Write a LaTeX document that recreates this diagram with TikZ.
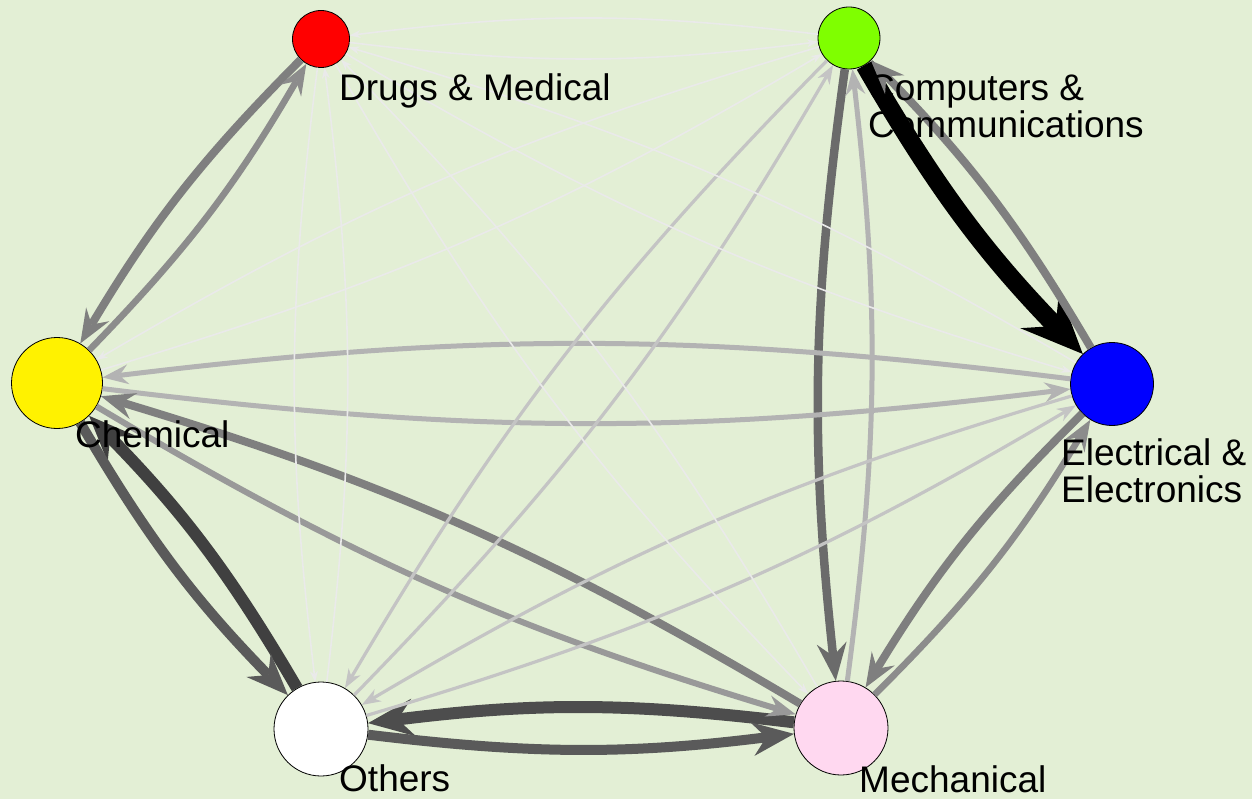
\documentclass[tikz,border=0pt]{standalone}
\usepackage{fontspec}
\setmainfont{Liberation Sans}
\usetikzlibrary{arrows.meta}

\definecolor{bgcol}{HTML}{E3EFD5}
\definecolor{pinkcol}{HTML}{FFD8F0}
\definecolor{greencol}{HTML}{7FFF00}

\begin{document}
\begin{tikzpicture}[x=1pt, y=-1pt]

    \tikzstyle{roundnode} = [draw, circle, line width=0.8, inner sep=0];
    \tikzstyle{namenode} = [anchor=base west, inner sep=0, align=left, font=\fontsize{37}{37}\selectfont];
    \tikzstyle{link} = [bend right=7];
    \tikzstyle{blackarrow} = [link, line width=18.5, color=black, -{Stealth[length=62, width=54, inset=23, line width=0pt]}];
    \tikzstyle{darkestarrow} = [link, line width=12, color={rgb,255:red,64;green,64;blue,64}, -{Stealth[length=46, width=38, inset=16, line width=0pt]}];
    \tikzstyle{darkerarrow} = [link, line width=12, color={rgb,255:red,77;green,77;blue,77}, -{Stealth[length=46, width=38, inset=16, line width=0pt]}];
    \tikzstyle{darkarrow} = [link, line width=10, color={rgb,255:red,90;green,90;blue,90}, -{Stealth[length=42, width=34, inset=14, line width=0pt]}];
    \tikzstyle{dimarrow} = [link, line width=8.5, color={rgb,255:red,107;green,107;blue,107}, -{Stealth[length=38, width=30, inset=13, line width=0pt]}];
    \tikzstyle{grayarrow} = [link, line width=8, color={rgb,255:red,127;green,127;blue,127}, -{Stealth[length=34, width=27, inset=12, line width=0pt]}];
    \tikzstyle{midarrow} = [link, line width=6.5, color={rgb,255:red,140;green,140;blue,140}, -{Stealth[length=31, width=24, inset=11, line width=0pt]}];
    \tikzstyle{softarrow} = [link, line width=6, color={rgb,255:red,153;green,153;blue,153}, -{Stealth[length=29, width=22, inset=10, line width=0pt]}];
    \tikzstyle{palearrow} = [link, line width=5, color={rgb,255:red,179;green,179;blue,179}, -{Stealth[length=26, width=20, inset=9, line width=0pt]}];
    \tikzstyle{lightarrow} = [link, line width=3.2, color={rgb,255:red,196;green,196;blue,196}, -{Stealth[length=19, width=14, inset=6, line width=0pt]}];
    \tikzstyle{faintarrow} = [link, line width=1.6, color={rgb,255:red,234;green,234;blue,234}, -{Stealth[length=11, width=8, inset=3.5, line width=0pt]}];

    \fill[bgcol] (0,0) rectangle (1252,799);
    \useasboundingbox (0,0) rectangle (1252,799);

    \node[roundnode, fill=red, minimum size=57] (drugs) at (321,39) {};
    \node[roundnode, fill=greencol, minimum size=62] (comp) at (849,38) {};
    \node[roundnode, fill=yellow, minimum size=91] (chem) at (57,383) {};
    \node[roundnode, fill=blue, minimum size=83] (elec) at (1112,384) {};
    \node[roundnode, fill=white, minimum size=94] (others) at (321,729) {};
    \node[roundnode, fill=pinkcol, minimum size=94] (mech) at (841,728) {};

    \draw[blackarrow] (comp) to (elec);
    \draw[grayarrow] (elec) to (comp);
    \draw[grayarrow] (drugs) to (chem);
    \draw[midarrow] (chem) to (drugs);
    \draw[darkestarrow] (others) to (chem);
    \draw[darkarrow] (chem) to (others);
    \draw[darkerarrow] (mech) to (others);
    \draw[darkarrow] (others) to (mech);
    \draw[dimarrow] (comp) to (mech);
    \draw[palearrow] (mech) to (comp);
    \draw[palearrow] (elec) to (chem);
    \draw[palearrow] (chem) to (elec);
    \draw[grayarrow] (mech) to (chem);
    \draw[softarrow] (chem) to (mech);
    \draw[grayarrow] (elec) to (mech);
    \draw[midarrow] (mech) to (elec);
    \draw[lightarrow] (elec) to (others);
    \draw[lightarrow] (others) to (elec);
    \draw[lightarrow] (comp) to (others);
    \draw[lightarrow] (others) to (comp);
    \draw[faintarrow] (comp) to (chem);
    \draw[faintarrow] (chem) to (comp);
    \draw[faintarrow] (drugs) to (elec);
    \draw[faintarrow] (elec) to (drugs);
    \draw[faintarrow] (drugs) to (mech);
    \draw[faintarrow] (mech) to (drugs);
    \draw[faintarrow] (drugs) to (others);
    \draw[faintarrow] (others) to (drugs);
    \draw[faintarrow] (drugs) to (comp);
    \draw[faintarrow] (comp) to (drugs);

    \node[namenode] (drugsname) at (339,101) {Drugs \& Medical};
    \node[namenode] (compname) at (868,138) {Computers \&\\Communications};
    \node[namenode] (chemname) at (75,447) {Chemical};
    \node[namenode] (elecname) at (1061,502) {Electrical \&\\Electronics};
    \node[namenode] (othersname) at (339,791) {Others};
    \node[namenode] (mechname) at (859,792) {Mechanical};

\end{tikzpicture}
\end{document}
